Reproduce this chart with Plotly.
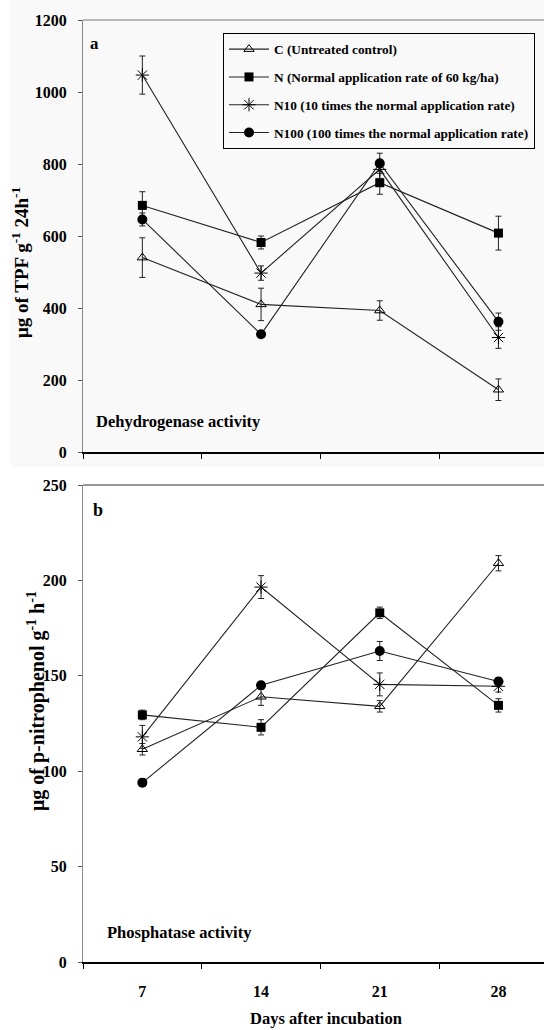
import plotly.graph_objects as go

days = ["7", "14", "21", "28"]
series_names = [
    "C (Untreated control)",
    "N (Normal application rate of 60 kg/ha)",
    "N10 (10 times the normal application rate)",
    "N100 (100 times the normal application rate)",
]
# Dehydrogenase activity (µg TPF g-1 24h-1)
dh_C = [540, 410, 393, 173]
dh_C_err = [55, 45, 27, 30]
dh_N = [685, 582, 748, 608]
dh_N_err = [38, 18, 32, 47]
dh_N10 = [1047, 497, 785, 318]
dh_N10_err = [53, 20, 25, 30]
dh_N100 = [646, 327, 802, 362]
dh_N100_err = [18, 8, 28, 24]
# Phosphatase activity (µg p-nitrophenol g-1 h-1)
ph_C = [111.5, 139, 134, 209]
ph_C_err = [3, 4.5, 3, 4]
ph_N = [129.5, 123, 183, 134.5]
ph_N_err = [2.5, 4, 3, 3.5]
ph_N10 = [118, 196.5, 145.5, 144.5]
ph_N10_err = [6, 6, 6, 3]
ph_N100 = [94, 145, 163, 147]
ph_N100_err = [2, 2, 5, 2]

W, H = 544, 1030
FONT = "Liberation Serif"

styles = [
    dict(symbol="triangle-up-open", size=9, color="black", line=dict(width=1, color="black")),
    dict(symbol="square", size=9, color="black"),
    dict(symbol="asterisk-open", size=11, color="black", line=dict(width=1, color="black")),
    dict(symbol="circle", size=10, color="black"),
]

fig = go.Figure()
top = [(dh_C, dh_C_err), (dh_N, dh_N_err), (dh_N10, dh_N10_err), (dh_N100, dh_N100_err)]
bot = [(ph_C, ph_C_err), (ph_N, ph_N_err), (ph_N10, ph_N10_err), (ph_N100, ph_N100_err)]
for i, (vals, err) in enumerate(top):
    fig.add_trace(go.Scatter(
        x=days, y=vals, mode="lines+markers", name=series_names[i],
        legendgroup=f"g{i}",
        line=dict(color="#222", width=1.1), marker=styles[i],
        error_y=dict(type="data", array=err, color="#222", thickness=1, width=3),
        xaxis="x", yaxis="y"))
for i, (vals, err) in enumerate(bot):
    fig.add_trace(go.Scatter(
        x=days, y=vals, mode="lines+markers", name=series_names[i],
        showlegend=False,
        line=dict(color="#222", width=1.1), marker=styles[i],
        error_y=dict(type="data", array=err, color="#222", thickness=1, width=3),
        xaxis="x2", yaxis="y2"))

def px_y(p):
    return 1 - p / H

L = 83
x_end = -0.5 + (W - L) / 118.7

xcommon = dict(type="category", categoryorder="array", categoryarray=days,
               range=[-0.5, x_end], tickson="boundaries", ticks="outside", ticklen=5,
               tickcolor="black", showline=True, linecolor="black", linewidth=2,
               showgrid=False, zeroline=False,
               tickfont=dict(family=FONT, size=16, color="black", weight="bold"))
ycommon = dict(showline=True, linecolor="#888", linewidth=1, ticks="outside", ticklen=4,
               tickcolor="#555", showgrid=False, zeroline=False, ticklabelstandoff=8,
               tickfont=dict(family=FONT, size=16, color="black", weight="bold"))

fig.update_layout(
    width=W, height=H,
    margin=dict(l=L, r=0, t=0, b=0, autoexpand=False),
    paper_bgcolor="white", plot_bgcolor="rgba(0,0,0,0)",
    xaxis=dict(xcommon, anchor="y", showticklabels=False),
    yaxis=dict(ycommon, domain=[px_y(452), px_y(20)], range=[0, 1200], dtick=200, anchor="x"),
    xaxis2=dict(xcommon, anchor="y2", ticklabelstandoff=14),
    yaxis2=dict(ycommon, domain=[px_y(962), px_y(485)], range=[0, 250], dtick=50, anchor="x2"),
    legend=dict(x=(223 - L) / (W - L), xanchor="left", y=px_y(33), yanchor="top",
                xref="paper", yref="paper",
                bordercolor="black", borderwidth=1, bgcolor="rgba(255,255,255,0)",
                font=dict(family=FONT, size=13.3, color="black", weight="bold"),
                tracegroupgap=7.5, itemwidth=40),
    showlegend=True,
)

shapes = [
    dict(type="rect", xref="paper", yref="paper", x0=-(L - 10) / (W - L), x1=1,
         y0=px_y(467), y1=1, fillcolor="#f9f9f9", line=dict(width=0), layer="below"),
    dict(type="line", xref="x domain", yref="y domain", x0=0, x1=1, y0=1, y1=1,
         line=dict(color="#777", width=1)),
    dict(type="line", xref="x2 domain", yref="y2 domain", x0=0, x1=1, y0=1, y1=1,
         line=dict(color="#333", width=1)),
]
fig.update_layout(shapes=shapes)

def ann(text, xpx, ypx, size, angle=0, xanchor="center"):
    return dict(text=text, xref="paper", yref="paper",
                x=(xpx - L) / (W - L), y=px_y(ypx), showarrow=False,
                xanchor=xanchor, yanchor="middle", textangle=angle,
                font=dict(family=FONT, size=size, color="black", weight="bold"))

fig.update_layout(annotations=[
    ann("a", 88, 43, 17, xanchor="left"),
    ann("b", 91, 510, 18, xanchor="left"),
    ann("Dehydrogenase activity", 94, 421, 16.5, xanchor="left"),
    ann("Phosphatase activity", 105, 932, 16.5, xanchor="left"),
    ann("μg of TPF g<sup>-1</sup> 24h<sup>-1</sup>", 20, 263, 19, angle=-90),
    ann("μg of p-nitrophenol g<sup>-1</sup> h<sup>-1</sup>", 36, 701, 20, angle=-90),
    ann("Days after incubation", 326, 1018, 16.5),
])

fig.write_html("out.html")
